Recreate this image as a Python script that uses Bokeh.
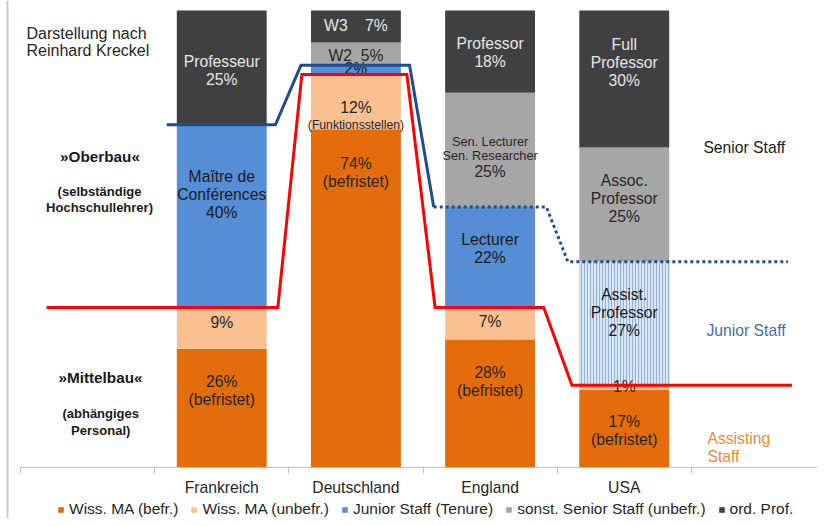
import numpy as np
from bokeh.plotting import figure
from bokeh.models import (Range1d, LinearAxis, FixedTicker, Legend, LegendItem,
                          Span, ColumnDataSource)
from bokeh.core.properties import value
from bokeh.embed import file_html
from bokeh.resources import INLINE

# ---------------- data ----------------
countries = ["Frankreich", "Deutschland", "England", "USA"]
x_pos = [1, 2, 3, 4]
series_names = ["Wiss. MA (befr.)", "Wiss. MA (unbefr.)", "Junior Staff (Tenure)",
                "sonst. Senior Staff (unbefr.)", "ord. Prof."]
wiss_befr = [26, 74, 28, 17]
wiss_unbefr = [9, 12, 7, 1]
junior = [40, 2, 22, 27]
senior = [0, 5, 25, 25]
ord_prof = [25, 7, 18, 30]

NB = "\u00a0"
labels_befr = ["26%\n(befristet)", "74%\n(befristet)", "28%\n(befristet)", "17%\n(befristet)"]
labels_unbefr = ["9%", "12%", "7%", "1%"]
labels_junior = ["Maître de\nConférences\n40%", "2%", "Lecturer\n22%", "Assist.\nProfessor\n27%"]
labels_senior = ["", "W2" + NB * 2 + "5%", "", "Assoc.\nProfessor\n25%"]
labels_prof = ["Professeur\n25%", "W3" + NB * 4 + "7%", "Professor\n18%", "Full\nProfessor\n30%"]

# line x extents (start, end) per country
red_x_start = [-0.306, 1.597, 2.59, 3.61]
red_x_end = [1.418, 2.38, 3.40, 5.25]
blue_x_start = [0.59, 1.59, 2.58, 3.58]
blue_x_end = [1.40, 2.40, 3.42, 5.22]

# ---------------- styles ----------------
FONT = "Liberation Sans"
FS = "15.7px"
LH = 1.06
colors = ["#e46c0a", "#fac090", "#558ed5", "#a6a6a6", "#404040"]
label_offsets = [
    [-18, -126, -22, 2],
    [-6, 6, -2, -1],
    [-22, -1, -9, -11],
    [0, 2, 0, -6],
    [3, -1, 1, -17],
]
label_colors = ["#262626", "#262626", "#1a1a1a", "#262626", "#e6e6e6"]

PX_X = 805 / 6.0
PX_Y = 4.57
W, H = 817, 518

p = figure(width=W, height=H,
           x_range=Range1d(-0.5 - 20 / PX_X, -0.5 + (W - 20) / PX_X),
           y_range=Range1d(-(H - 467) / PX_Y, 100 + 10 / PX_Y),
           x_axis_type=None, y_axis_type=None,
           output_backend="svg", toolbar_location=None, min_border=0)
p.outline_line_color = None
p.background_fill_color = "white"
p.border_fill_color = "white"

src = ColumnDataSource(dict(x=x_pos, befr=wiss_befr, unbefr=wiss_unbefr,
                            junior=junior, senior=senior, prof=ord_prof))
stackers = ["befr", "unbefr", "junior", "senior", "prof"]
rends = p.vbar_stack(stackers, x="x", width=0.67, color=colors, source=src,
                     line_color=None)

# hatched USA junior segment
stack = np.array([wiss_befr, wiss_unbefr, junior, senior, ord_prof], dtype=float)
bottoms = np.vstack([np.zeros(4), np.cumsum(stack, axis=0)[:-1]])
mids = bottoms + stack / 2
p.vbar(x=[x_pos[3]], bottom=[bottoms[2][3]], top=[bottoms[2][3] + junior[3]], width=0.67,
       fill_color="#dce6f2", line_color=None, hatch_pattern="vertical_line",
       hatch_color="#8db3e2", hatch_scale=3, hatch_weight=1)

# left vertical border line
p.add_layout(Span(location=-0.5 - 13 / PX_X, dimension="height",
                  line_color="#c8c8c8", line_width=2))

# axis
xaxis = LinearAxis(ticker=FixedTicker(ticks=x_pos,
                                      minor_ticks=[-0.5, 0.5, 1.5, 2.5, 3.5, 4.5, 5.5]))
xaxis.fixed_location = 0
xaxis.bounds = (-0.5, 5.5)
xaxis.major_label_overrides = {x: c for x, c in zip(x_pos, countries)}
xaxis.major_tick_out = 0
xaxis.major_tick_in = 0
xaxis.minor_tick_out = 6
xaxis.minor_tick_in = 0
xaxis.minor_tick_line_color = "#bfbfbf"
xaxis.axis_line_color = "#bfbfbf"
xaxis.major_label_standoff = 5
xaxis.major_label_text_font = FONT
xaxis.major_label_text_font_size = FS
xaxis.major_label_text_color = "#262626"
p.add_layout(xaxis, "below")

# segment labels
all_labels = [labels_befr, labels_unbefr, labels_junior, labels_senior, labels_prof]
for s, labs in enumerate(all_labels):
    xs, ys, ts, offs = [], [], [], []
    for i, t in enumerate(labs):
        if t:
            xs.append(x_pos[i]); ys.append(mids[s][i]); ts.append(t)
            offs.append(label_offsets[s][i])
    p.text(x=xs, y=ys, text=ts, y_offset=offs, text_align="center",
           text_baseline="middle", text_font=value(FONT), text_font_size=FS,
           text_color=label_colors[s], text_line_height=LH)

# extra smaller labels
p.text(x=[x_pos[1]], y=[mids[1][1]], text=["(Funktionsstellen)"], y_offset=[23],
       text_align="center", text_baseline="middle", text_font=value(FONT),
       text_font_size="12.2px", text_color="#262626")
p.text(x=[x_pos[2]], y=[mids[3][2]], text=["Sen. Lecturer\nSen. Researcher"], y_offset=[-1],
       text_align="center", text_baseline="middle", text_font=value(FONT),
       text_font_size="12.7px", text_color="#262626", text_line_height=0.97)
p.text(x=[x_pos[2]], y=[mids[3][2]], text=["25%"], y_offset=[22],
       text_align="center", text_baseline="middle", text_font=value(FONT),
       text_font_size=FS, text_color="#262626")

# left annotations
p.text(x=[-0.455], y=[93.1], text=["Darstellung nach\nReinhard Kreckel"],
       text_align="left", text_baseline="middle", text_font=value(FONT),
       text_font_size="16px", text_color="#262626", text_line_height=1.03)
p.text(x=[0.092, 0.096], y=[68.1, 19.76], text=["»Oberbau«", "»Mittelbau«"],
       text_align="center", text_baseline="middle", text_font=value(FONT),
       text_font_size="15.3px", text_font_style="bold", text_color="#1a1a1a")
p.text(x=[0.089, 0.098], y=[58.6, 9.96],
       text=["(selbständige\nHochschullehrer)", "(abhängiges\nPersonal)"],
       text_align="center", text_baseline="middle", text_font=value(FONT),
       text_font_size="13px", text_font_style="bold", text_color="#1a1a1a",
       text_line_height=1.07)

# right annotations
p.text(x=[4.59], y=[70.0], text=["Senior Staff"], text_align="left",
       text_baseline="middle", text_font=value(FONT), text_font_size=FS,
       text_color="#1a1a1a")
p.text(x=[4.613], y=[30.0], text=["Junior Staff"], text_align="left",
       text_baseline="middle", text_font=value(FONT), text_font_size=FS,
       text_color="#3f6eb0")
p.text(x=[4.62], y=[4.27], text=["Assisting\nStaff"], text_align="left",
       text_baseline="middle", text_font=value(FONT), text_font_size=FS,
       text_color="#f0883a", text_line_height=LH)

# level lines (derived from data)
red_level = [a + b for a, b in zip(wiss_befr, wiss_unbefr)]
blue_level = [r + j for r, j in zip(red_level, junior)]
red_xs, red_ys = [], []
for i in range(4):
    red_xs += [red_x_start[i], red_x_end[i]]
    red_ys += [red_level[i], red_level[i]]
p.line(red_xs, red_ys, line_color="#ff0000", line_width=3, line_join="miter")

blue_solid_x = [blue_x_start[0], blue_x_end[0], blue_x_start[1], blue_x_end[1], blue_x_start[2]]
blue_solid_y = [blue_level[0], blue_level[0], blue_level[1], blue_level[1], blue_level[2]]
p.line(blue_solid_x, blue_solid_y, line_color="#1f4e8a", line_width=3, line_join="miter")
blue_dot_x = [blue_x_start[2], blue_x_end[2], blue_x_start[3], blue_x_end[3]]
blue_dot_y = [blue_level[2], blue_level[2], blue_level[3], blue_level[3]]
p.line(blue_dot_x, blue_dot_y, line_color="#1f4e8a", line_width=3, line_dash="3 3")

# legend
legend = Legend(items=[LegendItem(label=n, renderers=[r]) for n, r in zip(series_names, rends)],
                orientation="horizontal", location=(57, 0),
                glyph_width=7, glyph_height=7, label_standoff=5, spacing=12,
                padding=0, margin=0, border_line_alpha=0, background_fill_alpha=0,
                label_text_font=FONT, label_text_font_size="15.5px",
                label_text_color="#262626", label_height=10)
p.add_layout(legend)

open("out.html", "w").write(file_html(p, INLINE))
